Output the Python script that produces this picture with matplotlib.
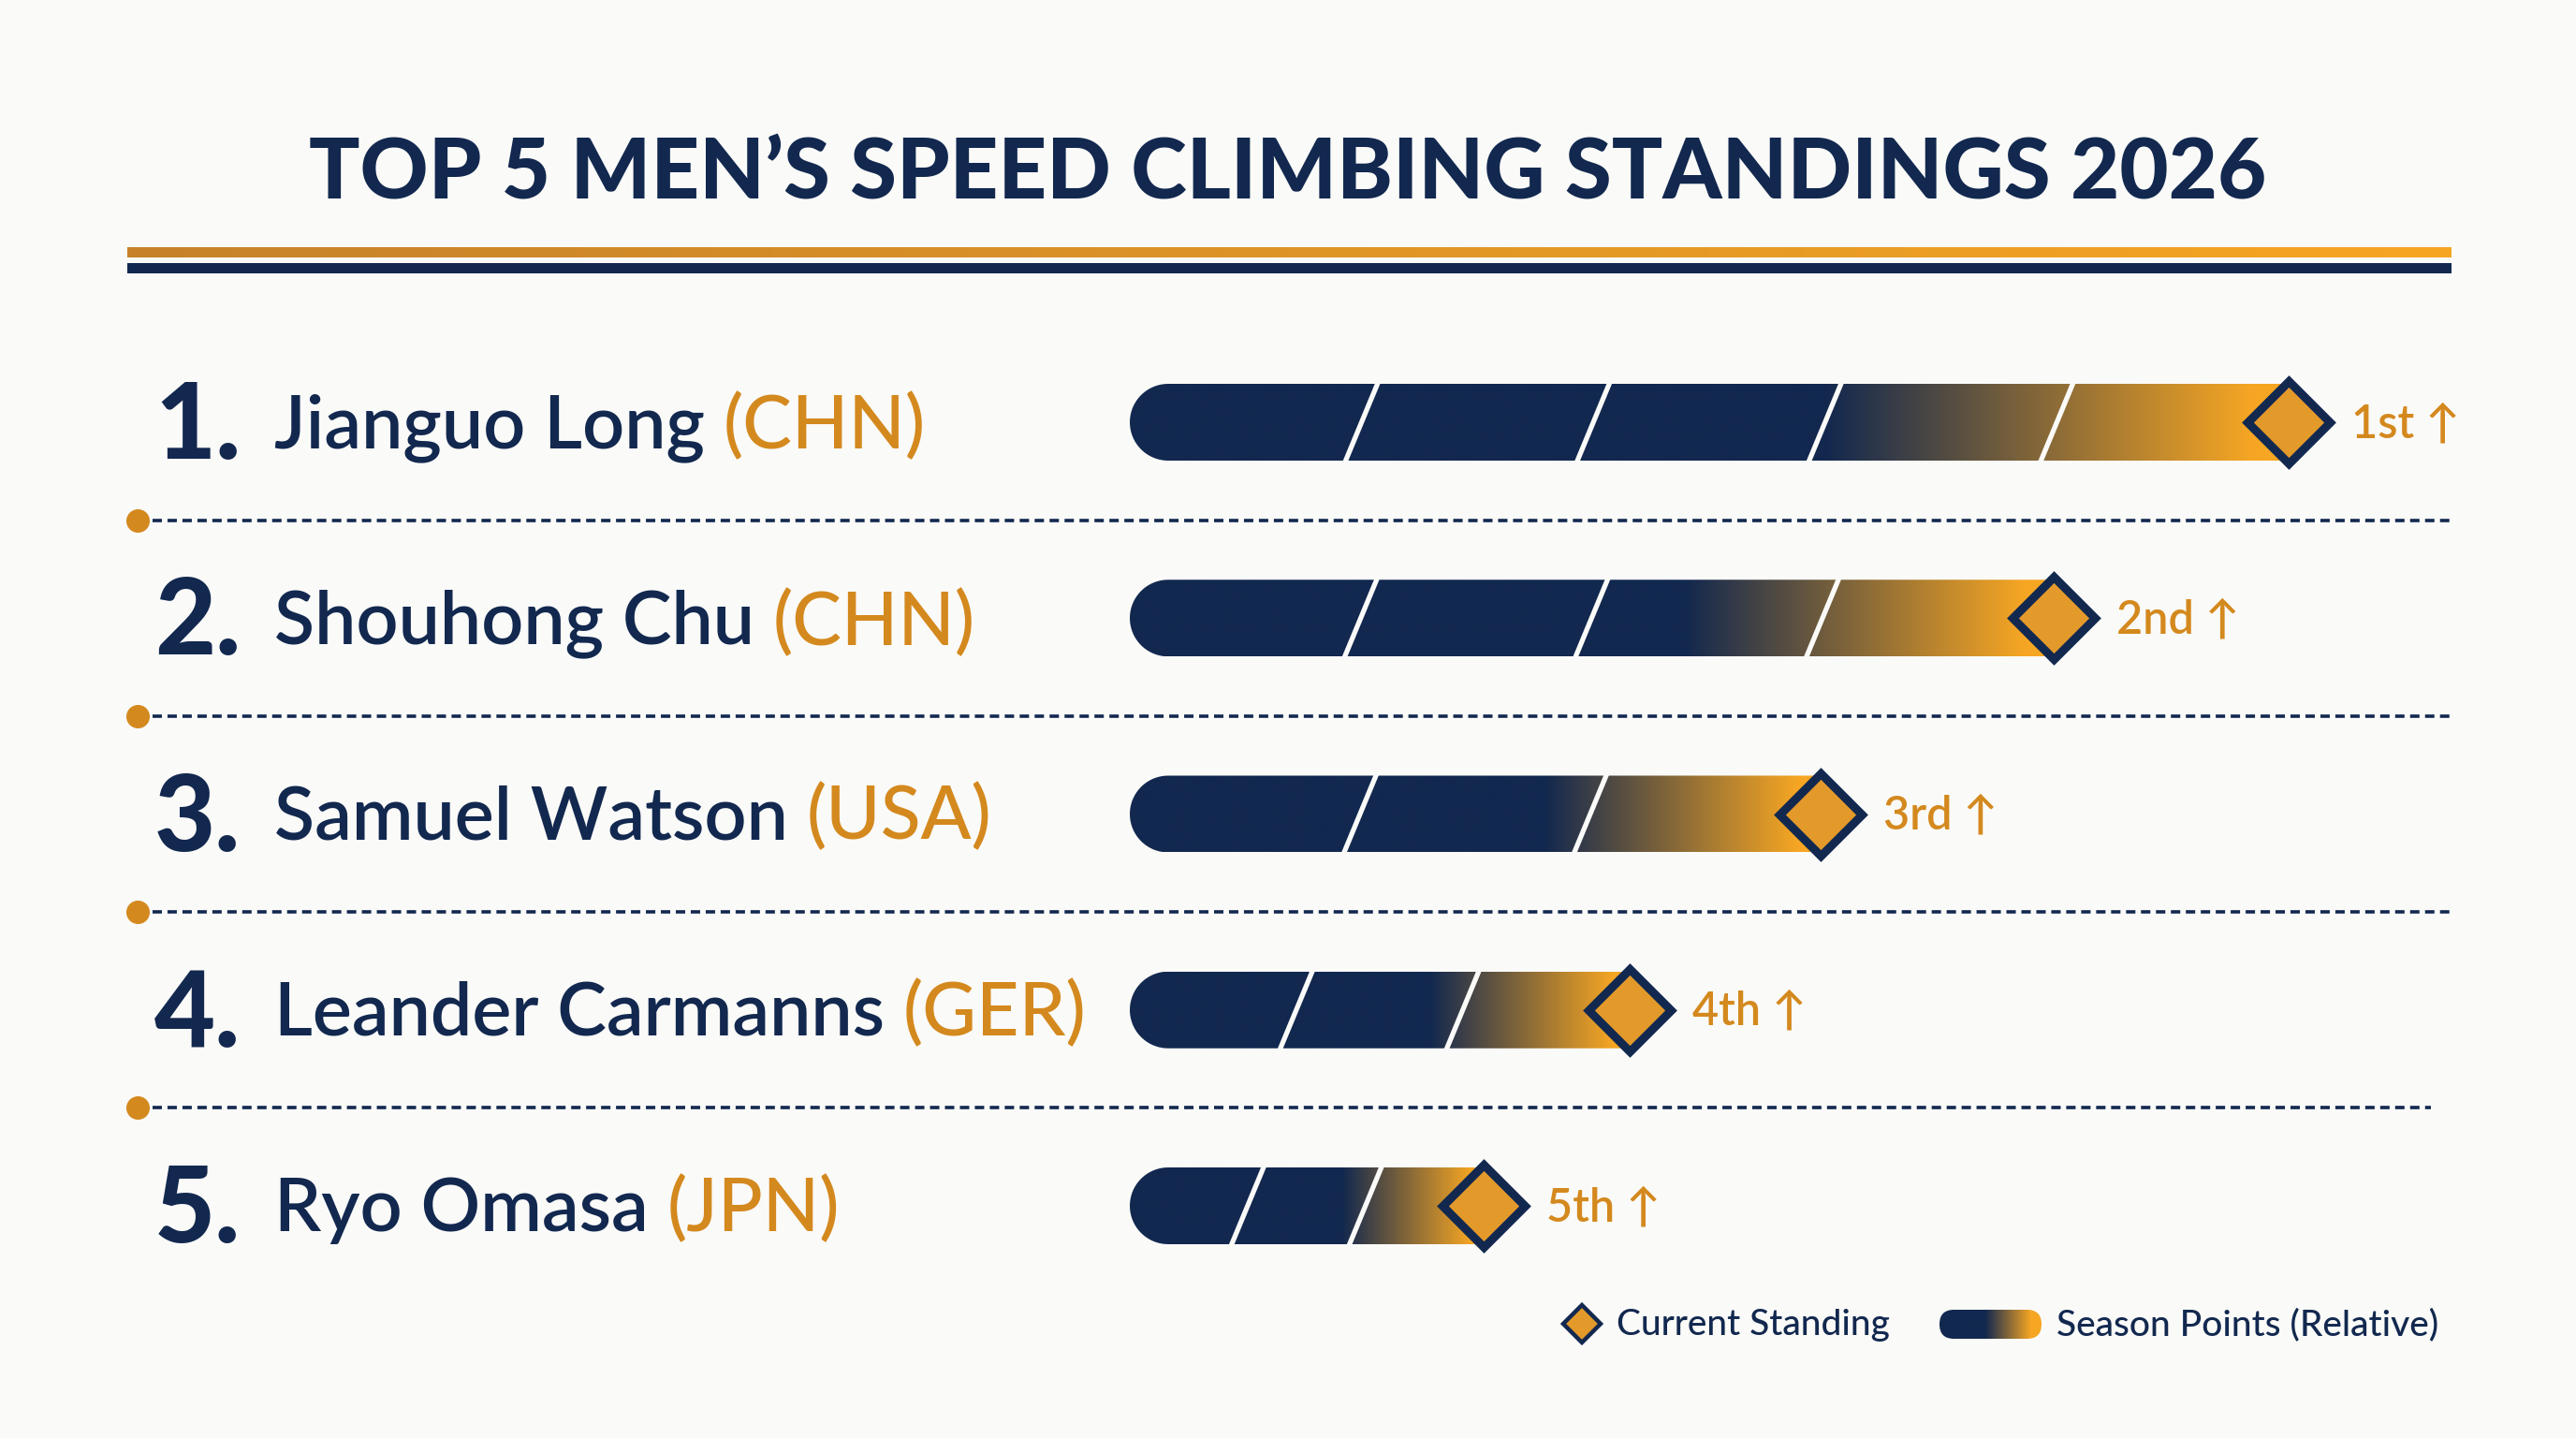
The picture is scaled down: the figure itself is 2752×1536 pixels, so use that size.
import numpy as np
import matplotlib.pyplot as plt
from matplotlib.patches import Polygon, Rectangle, FancyBboxPatch
from matplotlib.colors import to_rgb
from matplotlib import transforms

# data
ranks = [1, 2, 3, 4, 5]
athletes = ["Jianguo Long", "Shouhong Chu", "Samuel Watson", "Leander Carmanns", "Ryo Omasa"]
countries = ["CHN", "CHN", "USA", "GER", "JPN"]
season_points = [100, 79.7, 59.6, 43.1, 30.5]   # relative to the leader
standing_labels = ["1st", "2nd", "3rd", "4th", "5th"]
segments = [5, 4, 3, 3, 3]

NAVY = "#12284F"
ORANGE = "#F6A623"
GOLD = "#D4891E"
BG = "#FAFAF8"
FONT = ["Lato", "DejaVu Sans"]

plt.rcParams['font.family'] = FONT
plt.rcParams['lines.scale_dashes'] = False

W, H = 2752, 1536
fig = plt.figure(figsize=(W / 100, H / 100), dpi=100, facecolor=BG)

# background axes in pixel units (decorations)
bg = fig.add_axes([0, 0, 1, 1])
bg.set_xlim(0, W)
bg.set_ylim(H, 0)
bg.axis('off')

# data axes: x = relative season points, y = row index
ax = fig.add_axes([0, 0, 1, 1])
ax.patch.set_alpha(0)
ax.axis('off')
x0_px, px_per_unit = 1207, 12.38
row0_px, row_px = 451, 209.25
xlim = (-x0_px / px_per_unit, (W - x0_px) / px_per_unit)
ylim = ((H - row0_px) / row_px, -row0_px / row_px)
ax.set_xlim(*xlim)
ax.set_ylim(*ylim)

tr = transforms.blended_transform_factory(bg.transData, ax.transData)


def gradient_img(a, b, c0=NAVY, c1=ORANGE, n=300):
    t = np.linspace(0, 1, n)
    f = np.clip((t - a) / (b - a), 0, 1)
    c0 = np.array(to_rgb(c0))
    c1 = np.array(to_rgb(c1))
    row = c0[None, :] * (1 - f[:, None]) + c1[None, :] * f[:, None]
    return np.stack([row, row])


# title
fig.text(0.5, 1 - 212 / H, "TOP 5 MEN\u2019S SPEED CLIMBING STANDINGS 2026", ha='center', va='baseline',
         fontsize=65, fontweight='black', color=NAVY)
bg.imshow(gradient_img(0.0, 1.0, "#C7822A", ORANGE), extent=(136, 2619, 275, 264),
          aspect='auto', interpolation='bilinear')
bg.add_patch(Rectangle((136, 281), 2619 - 136, 10.5, color=NAVY, lw=0))

# separators
sep_end = [2618, 2618, 2618, 2597]
for i, xe in enumerate(sep_end):
    ax.plot([147, xe], [i + 0.5, i + 0.5], transform=tr, color=NAVY, lw=2.6,
            linestyle=(0, (7.2, 4.3)), dash_capstyle='butt', zorder=1)
    ax.plot([147], [i + 0.5], transform=tr, marker='o', ms=17, color=GOLD, zorder=2)

# bars
bh = 82 / row_px
rx = 41 / px_per_unit
slant = 34 / px_per_unit
for r, (v, n) in enumerate(zip(season_points, segments)):
    th = np.linspace(np.pi / 2, 3 * np.pi / 2, 40)
    pts = [(rx + rx * np.cos(t), r - bh / 2 * np.sin(t)) for t in th]
    pts += [(v, r + bh / 2), (v, r - bh / 2)]
    clip = Polygon(pts, closed=True, facecolor='none', edgecolor='none', transform=ax.transData)
    ax.add_patch(clip)
    im = ax.imshow(gradient_img(0.6, 0.97), extent=(0, v, r + bh / 2, r - bh / 2),
                   aspect='auto', interpolation='bilinear', zorder=2)
    im.set_clip_path(clip)
    for k in range(1, n):
        xk = v * k / n
        ax.plot([xk - slant / 2 * 1.1, xk + slant / 2 * 1.1], [r + bh / 2 * 1.1, r - bh / 2 * 1.1],
                color=BG, lw=3.8, solid_capstyle='butt', zorder=3)

# current standing diamonds
ax.plot(season_points, list(range(len(ranks))), linestyle='none', marker='D', ms=45,
        mfc="#E39A2B", mec=NAVY, mew=6.5, zorder=5)

lab_tr = transforms.offset_copy(ax.transData, fig=fig, x=67, y=0, units='dots')
for r, (v, lab) in enumerate(zip(season_points, standing_labels)):
    ax.text(v, r + 16 / row_px, f"{lab} \u2191", transform=lab_tr, ha='left', va='baseline',
            fontsize=35, fontweight='semibold', color=GOLD)

# rank numbers and names
for r, (rk, name, cc) in enumerate(zip(ranks, athletes, countries)):
    ax.text(165, r + 39 / row_px, f"{rk}.", transform=tr, ha='left', va='baseline',
            fontsize=81, fontweight='black', color=NAVY)
    t = ax.text(293, r + 27 / row_px, name, transform=tr, ha='left', va='baseline',
                fontsize=57, fontweight='semibold', color=NAVY)
    ax.annotate(f"({cc})", xy=(1, 0), xycoords=t, xytext=(14, 0), textcoords='offset points',
                ha='left', va='bottom', fontsize=57, fontweight='medium', color=GOLD)

# legend
bg.plot([1690], [1414], marker='D', ms=20, mfc="#E39A2B", mec=NAVY, mew=3.2)
bg.text(1727, 1426, "Current Standing", ha='left', va='baseline', fontsize=28,
        fontweight='medium', color=NAVY)
pill = FancyBboxPatch((2072, 1399), 109, 31, boxstyle="round,pad=0,rounding_size=15.5",
                      facecolor='none', edgecolor='none')
bg.add_patch(pill)
pim = bg.imshow(gradient_img(0.45, 0.9), extent=(2072, 2181, 1430, 1399),
                aspect='auto', interpolation='bilinear')
pim.set_clip_path(pill)
bg.text(2197, 1426, "Season Points (Relative)", ha='left', va='baseline', fontsize=28,
        fontweight='medium', color=NAVY)

bg.set_xlim(0, W)
bg.set_ylim(H, 0)
ax.set_xlim(*xlim)
ax.set_ylim(*ylim)

fig.savefig("out.png", dpi=100, facecolor=BG)
